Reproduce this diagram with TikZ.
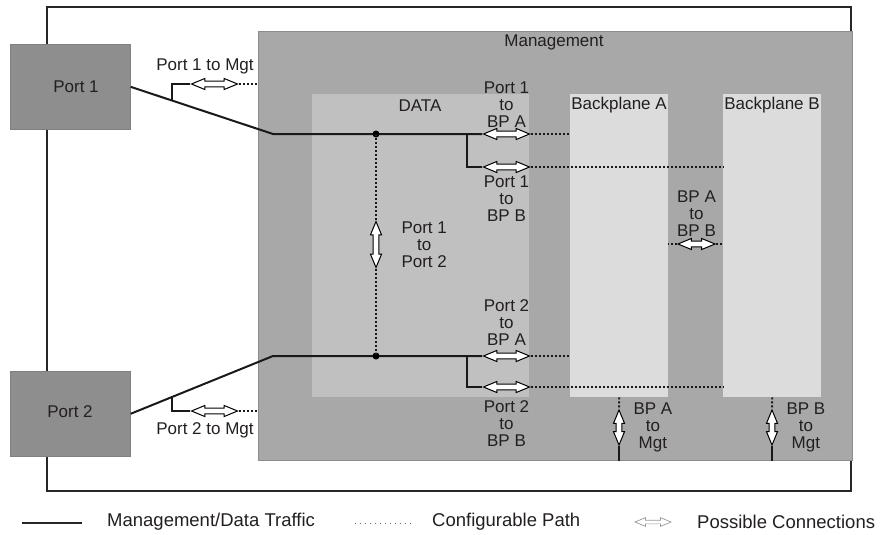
\documentclass[tikz,border=0pt]{standalone}
\usepackage{fontspec}
\setmainfont{Liberation Sans}
\usetikzlibrary{shapes.arrows, positioning}
\definecolor{mgtgray}{HTML}{A8A8A8}
\definecolor{portgray}{HTML}{8E8E8E}
\definecolor{datagray}{HTML}{C0C0C0}
\definecolor{bpgray}{HTML}{DCDCDC}
\definecolor{txt}{HTML}{231F20}
\tikzstyle{region} = [rectangle, anchor=north west, inner sep=0pt]
\tikzstyle{mgtbox} = [region, fill=mgtgray, draw=black!45, line width=0.5pt]
\tikzstyle{portbox} = [region, fill=portgray, draw=black!50, line width=0.6pt]
\tikzstyle{databox} = [region, fill=datagray]
\tikzstyle{bpbox} = [region, fill=bpgray]
\tikzstyle{lbl} = [align=center, text=txt, inner sep=0pt, font=\fontsize{17}{17}\selectfont]
\tikzstyle{legtxt} = [anchor=west, text=txt, inner sep=0pt, font=\fontsize{18.5}{20}\selectfont]
\tikzstyle{traffic} = [line width=2pt, draw=black!90]
\tikzstyle{cfgpath} = [line width=1.9pt, draw=black!90, dash pattern=on 1.9pt off 2.1pt]
\tikzstyle{dblarrow} = [double arrow, draw=black, fill=white, line width=1pt, inner sep=2.3pt, double arrow head extend=2.7pt, double arrow tip angle=45, minimum height=46pt]

\begin{document}
\begin{tikzpicture}[x=1pt, y=-1pt]
    \useasboundingbox (0,0) rectangle (883,535);

    % Marco
    \draw [line width=2pt, draw=black!85] (47,7) rectangle (851,491);

    % Cajas
    \node (mgt) [mgtbox, minimum width=594, minimum height=429] at (258,31) {};
    \node (mgttxt) [lbl] at (554,42) {Management};
    \node (port1) [portbox, minimum width=120, minimum height=85] at (10,44) {};
    \node (port1txt) [lbl] at (76,87) {Port 1};
    \node (port2) [portbox, minimum width=120, minimum height=85] at (10,371) {};
    \node (port2txt) [lbl] at (70,412) {Port 2};
    \node (data) [databox, minimum width=217, minimum height=303] at (312,94) {};
    \node (datatxt) [lbl] at (420,106) {DATA};
    \node (bpa) [bpbox, minimum width=98, minimum height=303] at (570,94) {};
    \node (bpatxt) [lbl] at (619,105) {Backplane A};
    \node (bpb) [bpbox, minimum width=98, minimum height=303] at (723,94) {};
    \node (bpbtxt) [lbl] at (772,105) {Backplane B};

    % Conmutadores
    \node (p1m) [dblarrow] at (214.5,84) {};
    \node (p2m) [dblarrow] at (214.5,411) {};
    \node (p1a) [dblarrow] at (506.5,134) {};
    \node (p1b) [dblarrow] at (506.5,167) {};
    \node (p2a) [dblarrow] at (506.5,356) {};
    \node (p2b) [dblarrow] at (506.5,387) {};
    \node (p12) [dblarrow, shape border rotate=90] at (376,244.5) {};
    \node (ab) [dblarrow, minimum height=37] at (696.5,244) {};
    \node (am) [dblarrow, shape border rotate=90, minimum height=35] at (619,427.5) {};
    \node (bm) [dblarrow, shape border rotate=90, minimum height=35] at (772,427.5) {};

    \coordinate (b1) at (273,134);
    \coordinate (b2) at (273,356);
    \coordinate (j1) at (376,134);
    \coordinate (j2) at (376,356);
    \coordinate (f1) at (467,134);
    \coordinate (f2) at (467,356);
    \coordinate (m1) at (172,100.4);
    \coordinate (m2) at (172,396.6);

    % Lineas de trafico
    \draw [traffic] (port1.east) -- (b1) -- (p1a);
    \draw [traffic] (f1) |- (p1b);
    \draw [traffic] (m1) |- (p1m);
    \draw [traffic] (port2.east) -- (b2) -- (p2a);
    \draw [traffic] (f2) |- (p2b);
    \draw [traffic] (m2) |- (p2m);
    \draw [traffic] (am) -- (am |- mgt.south);
    \draw [traffic] (bm) -- (bm |- mgt.south);
    \fill [black] (j1) circle (3.5pt);
    \fill [black] (j2) circle (3.5pt);

    % Caminos configurables
    \draw [cfgpath] (p1m) -- (p1m -| mgt.west);
    \draw [cfgpath] (p2m) -- (p2m -| mgt.west);
    \draw [cfgpath] (p1a) -- (p1a -| bpa.west);
    \draw [cfgpath] (p1b) -- (p1b -| bpb.west);
    \draw [cfgpath] (p2a) -- (p2a -| bpa.west);
    \draw [cfgpath] (p2b) -- (p2b -| bpb.west);
    \draw [cfgpath] (j1) -- (p12);
    \draw [cfgpath] (p12) -- (j2);
    \draw [cfgpath] (ab) -- (ab -| bpa.east);
    \draw [cfgpath] (ab) -- (ab -| bpb.west);
    \draw [cfgpath] (bpa.south) -- (am);
    \draw [cfgpath] (bpb.south) -- (bm);

    % Etiquetas
    \node (p1mtxt) [lbl] at (205,66) {Port 1 to Mgt};
    \node (p2mtxt) [lbl] at (205,430) {Port 2 to Mgt};
    \node (p1atxt) [lbl, above=3pt of p1a] {Port 1\\to\\BP A};
    \node (p1btxt) [lbl, below=5pt of p1b] {Port 1\\to\\BP B};
    \node (p2atxt) [lbl, above=7pt of p2a] {Port 2\\to\\BP A};
    \node (p2btxt) [lbl, below=10pt of p2b] {Port 2\\to\\BP B};
    \node (p12txt) [lbl, right=22pt of p12] {Port 1\\to\\Port 2};
    \node (abtxt) [lbl, above=4pt of ab] {BP A\\to\\BP B};
    \node (amtxt) [lbl, right=11pt of am] {BP A\\to\\Mgt};
    \node (bmtxt) [lbl, right=11pt of bm] {BP B\\to\\Mgt};

    % Leyenda
    \node (leg1) [legtxt] at (107,522) {Management/Data Traffic};
    \node (leg2) [legtxt] at (432,522) {Configurable Path};
    \node (leg3) [legtxt] at (697,522) {Possible Connections};
    \coordinate (s1) at (22,523);
    \coordinate (s2) at (355,523);
    \node (s3) [dblarrow, draw=black!40, line width=0.7pt, inner sep=1.5pt, double arrow head extend=2.5pt, minimum height=36] at (653,522) {};
    \draw [line width=1.5pt, draw=black!85] (s1) -- ([xshift=-25pt]s1 -| leg1.west);
    \draw [line width=1pt, draw=black!60, dash pattern=on 1pt off 4pt] (s2) -- ([xshift=-20pt]s2 -| leg2.west);
\end{tikzpicture}
\end{document}
